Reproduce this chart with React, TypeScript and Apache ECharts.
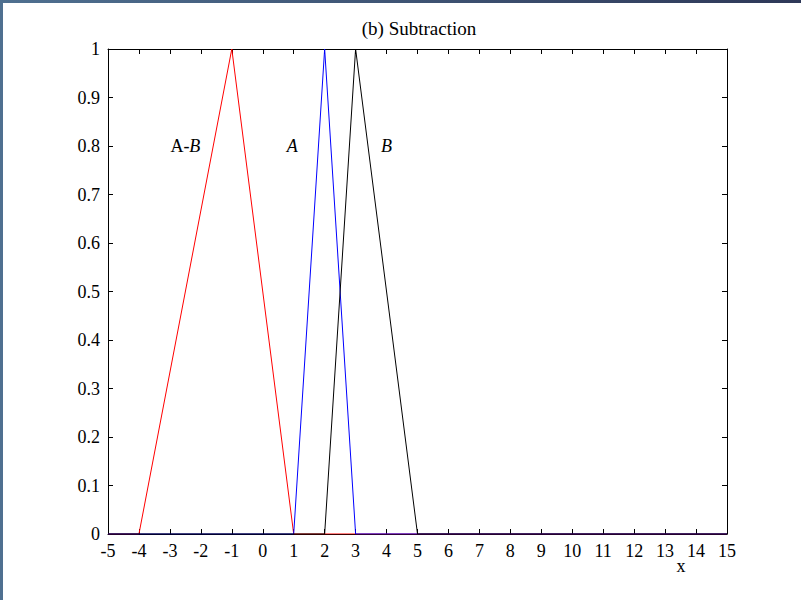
import React, { useEffect, useRef } from "react";
import * as echarts from "echarts";

// Membership function vertices [x, mu]
const seriesNames = ["A-B", "A", "B"];
const seriesColors = ["#ff0000", "#0000ff", "#000000"];
const aMinusB: [number, number][] = [[-5, 0], [-4, 0], [-1, 1], [1, 0], [15, 0]];
const setA: [number, number][] = [[-5, 0], [1, 0], [2, 1], [3, 0], [15, 0]];
const setB: [number, number][] = [[-5, 0], [2, 0], [3, 1], [5, 0], [15, 0]];

const xMin = -5;
const xMax = 15;
const yMin = 0;
const yMax = 1;

// Annotation labels: [x, y]
const labelAB: [number, number] = [-2.5, 0.8];
const labelA: [number, number] = [0.95, 0.8];
const labelB: [number, number] = [4.0, 0.8];

const title = "(b) Subtraction";
const xLabel = "x";

const FONT = "'Liberation Serif', 'Times New Roman', serif";

export default function App() {
  const ref = useRef<HTMLDivElement>(null);
  useEffect(() => {
    if (!ref.current) return;
    const chart = echarts.init(ref.current, undefined, { renderer: "svg" });
    const axisCommon = {
      axisLine: { show: true, onZero: false, lineStyle: { color: "#000", width: 1 } },
      axisTick: { show: true, inside: true, length: 5, lineStyle: { color: "#000" } },
      splitLine: { show: false },
    };
    const dataSets = [aMinusB, setA, setB];
    chart.setOption({
      animation: false,
      backgroundColor: "#ffffff",
      title: {
        text: title,
        left: 414,
        top: 14,
        textAlign: "center",
        textStyle: { fontFamily: FONT, fontSize: 19, fontWeight: "normal", color: "#000" },
      },
      grid: { left: 108, right: 74, top: 49, bottom: 66, containLabel: false },
      xAxis: [
        {
          ...axisCommon,
          type: "value",
          position: "bottom",
          min: xMin,
          max: xMax,
          interval: 1,
          axisLabel: { show: true, fontFamily: FONT, fontSize: 18, color: "#000", margin: 8 },
        },
        {
          ...axisCommon,
          type: "value",
          position: "top",
          min: xMin,
          max: xMax,
          interval: 1,
          axisLabel: { show: false },
        },
      ],
      yAxis: [
        {
          ...axisCommon,
          type: "value",
          position: "left",
          min: yMin,
          max: yMax,
          interval: 0.1,
          axisLabel: { show: true, fontFamily: FONT, fontSize: 18, color: "#000", margin: 8 },
        },
        {
          ...axisCommon,
          type: "value",
          position: "right",
          min: yMin,
          max: yMax,
          interval: 0.1,
          axisLabel: { show: false },
        },
      ],
      series: dataSets.map((d, i) => ({
        name: seriesNames[i],
        type: "line",
        data: d,
        xAxisIndex: 0,
        yAxisIndex: 0,
        showSymbol: false,
        symbol: "none",
        lineStyle: { color: seriesColors[i], width: 1 },
        z: 3 + i,
      })),
    });

    const toPx = (p: [number, number]) =>
      chart.convertToPixel({ xAxisIndex: 0, yAxisIndex: 0 }, p) as number[];
    const pAB = toPx(labelAB);
    const pA = toPx(labelA);
    const pB = toPx(labelB);
    const labelStyleBase = { fontFamily: FONT, fontSize: 18, fill: "#000" };
    chart.setOption({
      graphic: [
        {
          type: "text",
          x: pAB[0],
          y: pAB[1],
          style: {
            text: "{n|A-}{i|B}",
            align: "center",
            verticalAlign: "middle",
            ...labelStyleBase,
            rich: {
              n: { fontFamily: FONT, fontSize: 18, fill: "#000" },
              i: { fontFamily: FONT, fontSize: 18, fontStyle: "italic", fill: "#000" },
            },
          },
        },
        {
          type: "text",
          x: pA[0],
          y: pA[1],
          style: { text: "A", align: "center", verticalAlign: "middle", fontStyle: "italic", ...labelStyleBase },
        },
        {
          type: "text",
          x: pB[0],
          y: pB[1],
          style: { text: "B", align: "center", verticalAlign: "middle", fontStyle: "italic", ...labelStyleBase },
        },
        {
          type: "text",
          x: 681,
          y: 566,
          style: { text: xLabel, align: "center", verticalAlign: "middle", ...labelStyleBase },
        },
      ],
    });
    return () => chart.dispose();
  }, []);
  return (
    <div style={{ position: "fixed", left: 0, top: 0, width: 801, height: 600, background: "#fff" }}>
      <div ref={ref} style={{ position: "absolute", left: 0, top: 0, width: 801, height: 600 }} />
      <div
        style={{
          position: "absolute",
          left: 0,
          top: 0,
          width: 801,
          height: 3,
          background: "linear-gradient(to right, #4f7090, #2e3858)",
        }}
      />
      <div style={{ position: "absolute", left: 0, top: 0, width: 3, height: 600, background: "#4f7090" }} />
    </div>
  );
}
